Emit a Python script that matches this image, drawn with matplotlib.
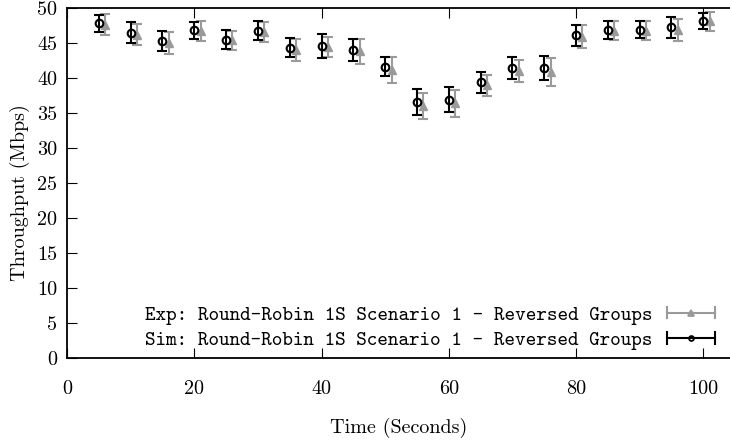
import matplotlib
matplotlib.use("Agg")
import matplotlib.pyplot as plt
from matplotlib.lines import Line2D
from matplotlib.legend_handler import HandlerBase

# ---- data ----
times = [5, 10, 15, 20, 25, 30, 35, 40, 45, 50, 55, 60, 65, 70, 75, 80, 85, 90, 95, 100]
exp_times = [6, 11, 16, 21, 26, 31, 36, 41, 46, 51, 56, 61, 66, 71, 76, 81, 86, 91, 96, 101]
sim_vals = [47.8, 46.45, 45.3, 46.8, 45.5, 46.75, 44.35, 44.55, 44.0, 41.6, 36.55, 36.9,
            39.4, 41.4, 41.4, 46.1, 46.85, 46.9, 47.25, 48.15]
sim_err = [1.25, 1.5, 1.45, 1.25, 1.35, 1.35, 1.4, 1.7, 1.6, 1.35, 1.9, 1.75,
           1.5, 1.55, 1.75, 1.5, 1.3, 1.2, 1.5, 1.1]
exp_vals = [47.6, 46.2, 45.0, 46.7, 45.4, 46.6, 44.0, 44.45, 43.8, 41.15, 36.0, 36.4,
            39.0, 41.0, 40.85, 45.9, 46.75, 46.75, 46.85, 48.1]
exp_err = [1.5, 1.5, 1.55, 1.45, 1.35, 1.4, 1.6, 1.45, 1.8, 1.85, 1.9, 1.9,
           1.5, 1.6, 2.05, 1.65, 1.35, 1.35, 1.55, 1.4]
x_ticks = [0, 20, 40, 60, 80, 100]
y_ticks = [0, 5, 10, 15, 20, 25, 30, 35, 40, 45, 50]
exp_label = "Exp: Round-Robin 1S Scenario 1 - Reversed Groups"
sim_label = "Sim: Round-Robin 1S Scenario 1 - Reversed Groups"

GRAY = "#9a9a9a"
FS = 14.5
plt.rcParams["font.family"] = "cmr10"
plt.rcParams["axes.formatter.use_mathtext"] = True
plt.rcParams["mathtext.fontset"] = "cm"

fig = plt.figure(figsize=(7.3, 4.47), dpi=100)
L, B, T = 67 / 730, (447 - 358) / 447, (447 - 8) / 447
ax = fig.add_axes([L, B, 1.0 - L, T - B])

ax.errorbar(exp_times, exp_vals, yerr=exp_err, fmt="^", color=GRAY, ecolor=GRAY,
            ms=6, mfc=GRAY, mec=GRAY, elinewidth=1.5, capsize=3.9, capthick=1.5, zorder=2)
ax.errorbar(times, sim_vals, yerr=sim_err, fmt="o", color="black", ecolor="black",
            ms=5.5, mfc="none", mec="black", mew=1.5, elinewidth=1.5, capsize=3.9,
            capthick=1.5, zorder=3)

ax.set_xlim(0, 104.2)
ax.set_ylim(0, 50)
ax.set_xticks(x_ticks)
ax.set_yticks(y_ticks)
ax.set_xticklabels([str(v) for v in x_ticks], fontsize=FS)
ax.set_yticklabels([str(v) for v in y_ticks], fontsize=FS)
ax.tick_params(axis="x", direction="in", length=7, width=0.8, top=True, pad=16)
ax.tick_params(axis="y", direction="in", length=7, width=0.8, right=False, pad=7)
for s in ["left", "bottom", "top"]:
    ax.spines[s].set_linewidth(1.3)
ax.spines["right"].set_visible(False)

ax.set_xlabel("Time (Seconds)", fontsize=FS)
ax.xaxis.set_label_coords(0.5, (358 - 428) / 350)
ax.xaxis.label.set_va("center")
ax.set_ylabel("Throughput (Mbps)", fontsize=FS)
ax.yaxis.set_label_coords((20 - 67) / 663, 0.474)
ax.yaxis.label.set_va("center")


class HandlerXErr(HandlerBase):
    def __init__(self, color, marker, ms, mfc):
        super().__init__()
        self.color, self.marker, self.ms, self.mfc = color, marker, ms, mfc

    def create_artists(self, legend, orig_handle, xdescent, ydescent, width, height,
                       fontsize, trans):
        y = height / 2 - ydescent
        x0, x1 = -xdescent, -xdescent + width
        ch = 4
        arts = [
            Line2D([x0, x1], [y, y], color=self.color, lw=1.5),
            Line2D([x0, x0], [y - ch, y + ch], color=self.color, lw=1.5),
            Line2D([x1, x1], [y - ch, y + ch], color=self.color, lw=1.5),
            Line2D([(x0 + x1) / 2], [y], marker=self.marker, ms=self.ms, color=self.color,
                   mfc=self.mfc, mec=self.color, mew=1.3, ls="none"),
        ]
        for a in arts:
            a.set_transform(trans)
        return arts


h_exp = Line2D([], [], color=GRAY)
h_sim = Line2D([], [], color="black")
leg = ax.legend([h_exp, h_sim], [exp_label, sim_label],
                handler_map={h_exp: HandlerXErr(GRAY, "^", 4, GRAY),
                             h_sim: HandlerXErr("black", "o", 3.5, "none")},
                loc="lower right", bbox_to_anchor=((715 - 67) / 663, (358 - 350) / 350),
                frameon=False, markerfirst=False, handlelength=2.4, handletextpad=0.7,
                borderpad=0, borderaxespad=0, labelspacing=0.3,
                prop={"family": "cmtt10", "size": FS})

fig.savefig("out.png", dpi=100)
